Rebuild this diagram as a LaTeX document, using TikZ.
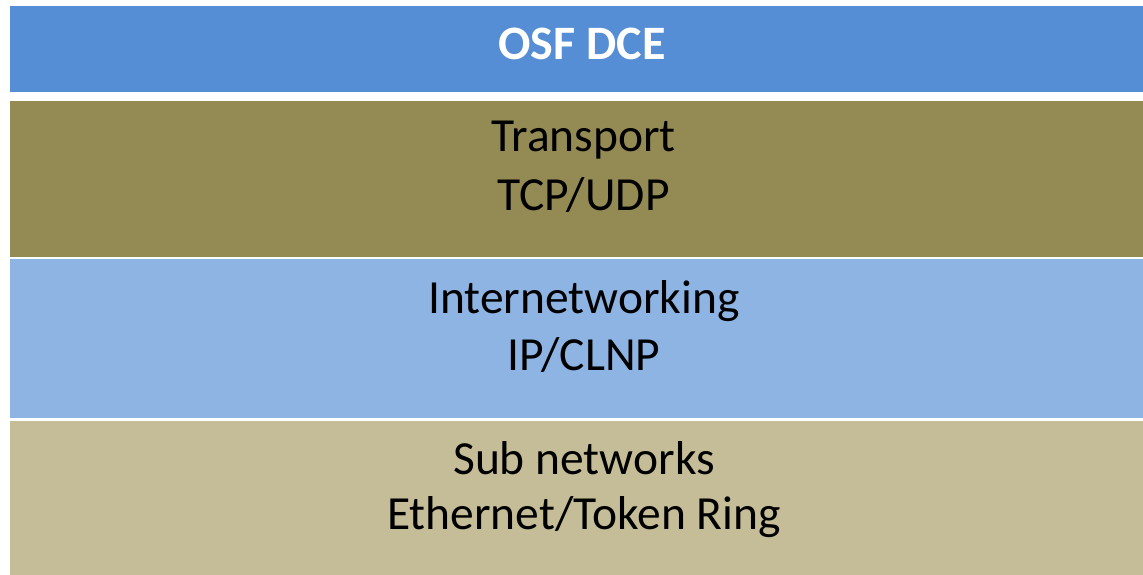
\documentclass[tikz,border=0pt]{standalone}
\usepackage{fontspec}
\setmainfont{Carlito}
\definecolor{dceblue}{HTML}{558ED5}
\definecolor{transolive}{HTML}{948A54}
\definecolor{inetblue}{HTML}{8EB4E3}
\definecolor{subtan}{HTML}{C4BD97}
\begin{document}
\begin{tikzpicture}[x=1pt,y=-1pt,
  layer/.style={draw=none, inner sep=0pt, outer sep=0pt, anchor=north west, minimum width=1133pt},
  lbl/.style={anchor=base, inner sep=0pt, font=\fontsize{47.5}{57}\selectfont, text=black},
  title/.style={anchor=base, inner sep=0pt, font=\fontsize{48}{57}\selectfont\bfseries, text=white}]
\useasboundingbox (0,0) rectangle (1143,575);
\node[layer, fill=dceblue, minimum height=86pt] (dce) at (10,6) {};
\node[layer, fill=transolive, minimum height=156pt] (trans) at (10,101) {};
\node[layer, fill=inetblue, minimum height=159pt] (inet) at (10,259) {};
\node[layer, fill=subtan, minimum height=155pt] (sub) at (10,421) {};
\node[title] (t0) at (582,60) {OSF DCE};
\node[lbl] (t1) at (583.5,152) {Transport};
\node[lbl] (t2) at (583.5,210) {TCP/UDP};
\node[lbl] (t3) at (584,313) {Internetworking};
\node[lbl] (t4) at (584,370) {IP/CLNP};
\node[lbl] (t5) at (584,474) {Sub networks};
\node[lbl] (t6) at (584,529) {Ethernet/Token Ring};
\end{tikzpicture}
\end{document}
